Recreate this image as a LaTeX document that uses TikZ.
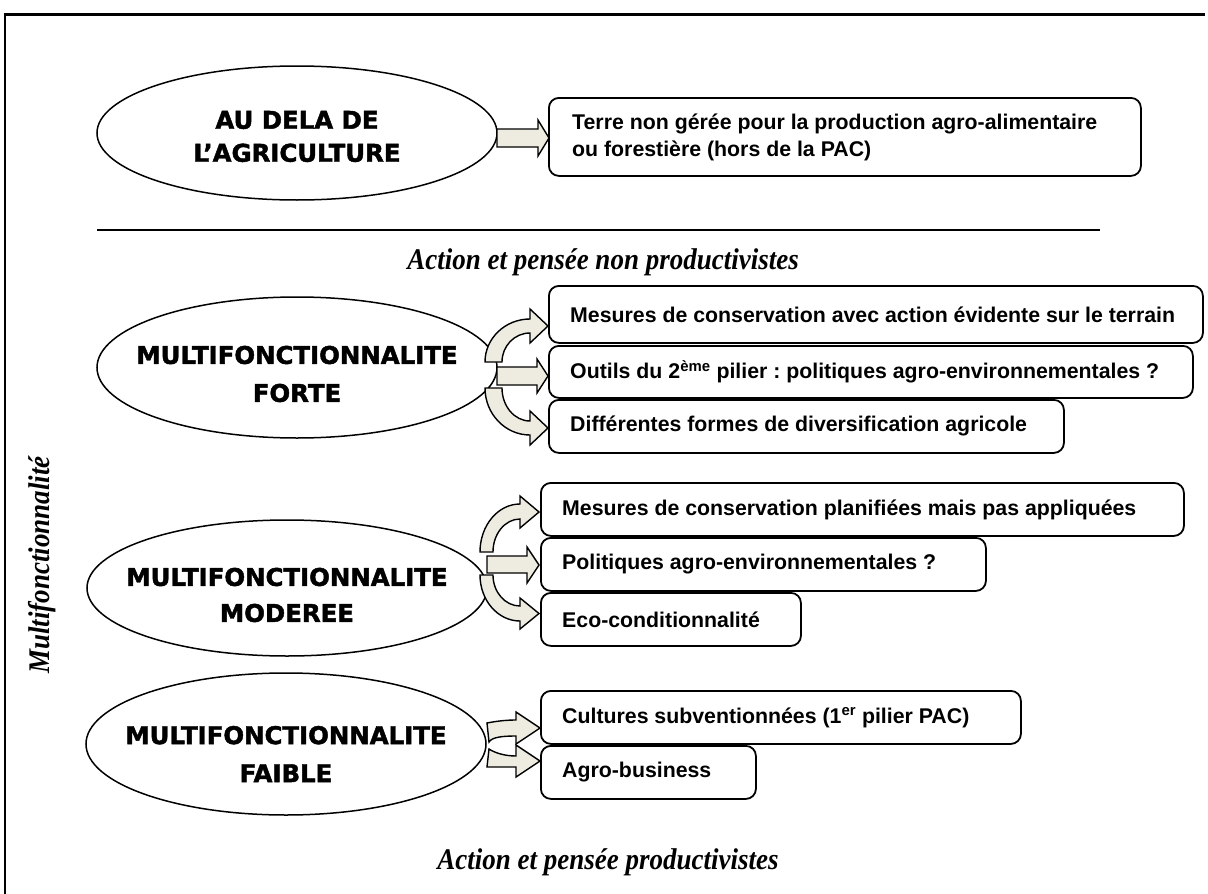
\documentclass[tikz,border=0pt]{standalone}
\usepackage{fontspec}
\setmainfont{Liberation Sans}
\newfontfamily\boxfont{Liberation Sans}
\newfontfamily\ovalfont{DejaVu Sans}[BoldFeatures={FakeBold=1.8}]
\newfontfamily\capfont{Liberation Serif}[FakeStretch=0.9]
\usetikzlibrary{shapes.geometric}
\definecolor{arrowfill}{HTML}{EEECE1}
\frenchspacing
\tikzset{
  oval/.style={ellipse, draw, line width=1.5pt, fill=white, inner sep=0pt,
    minimum width=400pt, minimum height=#1},
  ovaltext/.style={align=center, inner sep=0pt,
    font=\ovalfont\bfseries\fontsize{24.4}{#1}\selectfont},
  boxshape/.style={draw, line width=1.8pt, rounded corners=10pt, fill=white,
    anchor=north west, inner sep=0pt},
  boxtext/.style={anchor=west, align=left, inner sep=0pt,
    font=\boxfont\bfseries\fontsize{21.3}{27}\selectfont},
  caption/.style={inner sep=0pt, font=\capfont\bfseries\itshape\fontsize{30}{34}\selectfont},
  blockarrow/.style={draw, line width=1.4pt, fill=arrowfill, line join=miter},
}
\begin{document}
\begin{tikzpicture}[x=1pt, y=-1pt]
\useasboundingbox (0,0) rectangle (1208,894);

% frame: top and left rules only
\draw[line width=3pt] (3.5,14) -- (1205,14);
\draw[line width=1.5pt] (5,14) -- (5,894);

% ---------- beyond agriculture ----------
\node[oval=134pt] (e1) at (297,133) {};
\node[ovaltext=33pt] (t1) at (297,136.5) {AU DELA DE\\L’AGRICULTURE};
\node[boxshape, minimum width=592pt, minimum height=78pt] (b1) at (548,97) {};
\node[boxtext] (tb1) at ([xshift=24pt]b1.west) {Terre non gérée pour la production agro-alimentaire\\ou forestière (hors de la PAC)};
\draw[blockarrow] (497,129) -- (538,129) -- (538,120) -- (549,138) -- (538,156) -- (538,147) -- (497,147) -- cycle;

\draw[line width=1.5pt] (97,230) -- (1100,230);
\node[caption] (c1) at (603,262) {Action et pensée non productivistes};

% ---------- strong ----------
\node[oval=141pt] (e2) at (297,367.5) {};
\node[ovaltext=38pt] (t2) at (297,374) {MULTIFONCTIONNALITE\\FORTE};
\draw[blockarrow] (485,362) .. controls (485,338.3) and (505.2,319) .. (530,319)
  -- (530,309) -- (548,326) -- (530,343) -- (530,333)
  .. controls (514.5,333) and (502,346) .. (502,362) -- cycle;
\draw[blockarrow] (497,367) -- (537,367) -- (537,359) -- (548,376) -- (537,393) -- (537,385) -- (497,385) -- cycle;
\draw[blockarrow] (485,388) .. controls (485,413.9) and (505.2,435) .. (530,435)
  -- (530,445) -- (548,428) -- (530,411) -- (530,421)
  .. controls (514.5,421) and (502,406.2) .. (502,388) -- cycle;
\node[boxshape, minimum width=654pt, minimum height=57pt] (bA) at (548,285) {};
\node[boxtext] (tA) at ([xshift=22pt]bA.west) {Mesures de conservation avec action évidente sur le terrain};
\node[boxshape, minimum width=644pt, minimum height=52pt] (bB) at (548,345) {};
\node[boxtext] (tB) at ([xshift=22pt]bB.west) {Outils du 2\textsuperscript{ème} pilier : politiques agro-environnementales ?};
\node[boxshape, minimum width=515pt, minimum height=53pt] (bC) at (548,399) {};
\node[boxtext] (tC) at ([xshift=22pt]bC.west) {Différentes formes de diversification agricole};

% ---------- moderate ----------
\node[oval=136pt] (e3) at (287,588) {};
\node[ovaltext=36pt] (t3) at (287,595) {MULTIFONCTIONNALITE\\MODEREE};
\draw[blockarrow] (480,552) .. controls (480,525.5) and (497.9,504) .. (520,504)
  -- (520,496) -- (539,512) -- (520,528) -- (520,519)
  .. controls (505.1,519) and (493,533.8) .. (493,552) -- cycle;
\draw[blockarrow] (487,556) -- (527,556) -- (527,547) -- (539,565) -- (527,583) -- (527,573) -- (487,573) -- cycle;
\draw[blockarrow] (480,575) .. controls (480,600.4) and (497.9,621) .. (520,621)
  -- (520,629) -- (539,613.5) -- (520,598) -- (520,606)
  .. controls (505.1,606) and (493,592.1) .. (493,575) -- cycle;
\node[boxshape, minimum width=643pt, minimum height=53pt] (bD) at (540,482) {};
\node[boxtext] (tD) at ([xshift=22pt]bD.west) {Mesures de conservation planifiées mais pas appliquées};
\node[boxshape, minimum width=445pt, minimum height=53pt] (bE) at (540,537) {};
\node[boxtext] (tE) at ([xshift=22pt]bE.west) {Politiques agro-environnementales ?};
\node[boxshape, minimum width=260pt, minimum height=53pt] (bF) at (540,592) {};
\node[boxtext] (tF) at ([xshift=22pt]bF.west) {Eco-conditionnalité};

% ---------- weak ----------
\node[oval=142pt] (e4) at (286,744) {};
\node[ovaltext=38pt] (t4) at (286,754) {MULTIFONCTIONNALITE\\FAIBLE};
\draw[blockarrow] (487,723) .. controls (497,721) and (507,720) .. (516,720)
  -- (516,712) -- (540,728) -- (516,744) -- (516,736)
  .. controls (503,736) and (492,737) .. (489,742) -- cycle;
\draw[blockarrow] (489,749) .. controls (495,753) and (505,756) .. (516,756)
  -- (516,745) -- (540,761) -- (516,777) -- (516,767)
  .. controls (505,767) and (495,767) .. (487,767) -- cycle;
\node[boxshape, minimum width=480pt, minimum height=53pt] (bG) at (540,690) {};
\node[boxtext] (tG) at ([xshift=22pt]bG.west) {Cultures subventionnées (1\textsuperscript{er} pilier PAC)};
\node[boxshape, minimum width=215pt, minimum height=53pt] (bH) at (540,745) {};
\node[boxtext] (tH) at ([xshift=22pt]bH.west) {Agro-business};

\node[caption] (c2) at (608,862) {Action et pensée productivistes};
\node[caption, rotate=90] (vt) at (42,565) {Multifonctionnalité};
\end{tikzpicture}
\end{document}
